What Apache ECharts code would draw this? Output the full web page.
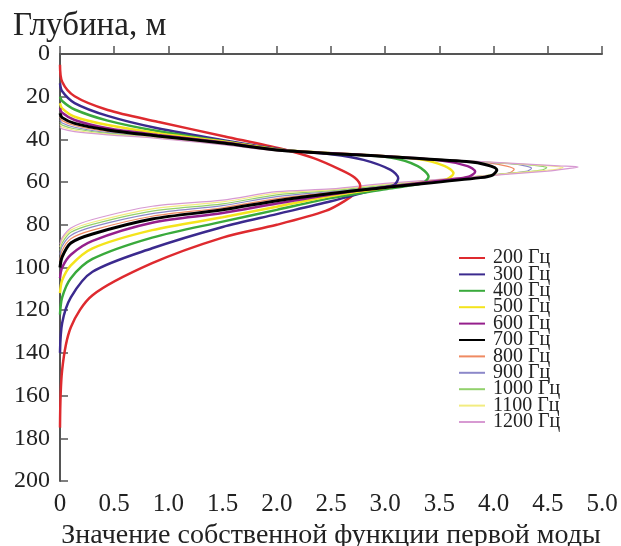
<!DOCTYPE html>
<html><head><meta charset="utf-8">
<script src="https://cdn.jsdelivr.net/npm/echarts@6/dist/echarts.min.js"></script>
<style>html,body{margin:0;padding:0;background:#fff}#c{width:621px;height:546px}</style>
</head><body><div id="c"></div>
<script>
const freqLabels = ['200 Гц','300 Гц','400 Гц','500 Гц','600 Гц','700 Гц','800 Гц','900 Гц','1000 Гц','1100 Гц','1200 Гц'];
const xTicks = [0,0.5,1.0,1.5,2.0,2.5,3.0,3.5,4.0,4.5,5.0];
const yTicks = [0,20,40,60,80,100,120,140,160,180,200];
// each point: [eigenfunction value, depth m]
const f200 = [[0,5],[0.02,13],[0.135,19.8],[0.44,26.2],[0.9,31.7],[1.52,38.6],[2.05,44.5],[2.34,48.8],[2.59,54.3],[2.72,58],[2.77,62],[2.74,64.5],[2.62,69],[2.45,73.5],[2.0,80],[1.5,86],[0.85,98],[0.3,113],[0.1,128],[0.02,148],[0,175]];
const f300 = [[0,13.7],[0.02,17.5],[0.135,23],[0.44,29],[0.9,34.8],[1.52,40.5],[2.05,44.8],[2.5,47],[2.8,49.6],[3.05,54.3],[3.12,58.2],[3.08,61.4],[2.95,62.9],[2.5,69],[2.0,75],[1.5,81],[0.85,91],[0.3,102],[0.1,114],[0.02,126],[0,140]];
const f400 = [[0,20],[0.02,22],[0.135,26],[0.44,31.2],[0.9,36.1],[1.52,41],[2.05,45],[2.6,46.8],[3.05,48.5],[3.3,52.5],[3.4,57.5],[3.35,60.3],[3.2,61.8],[3.0,63.3],[2.5,67.5],[2.0,73],[1.5,78.5],[0.85,86],[0.3,96],[0.1,105],[0.02,114],[0,122]];
const f500 = [[0,23.1],[0.02,25.5],[0.135,29.4],[0.44,33.3],[0.9,37.1],[1.52,41.1],[2.05,45],[2.7,47],[3.3,49.2],[3.55,52.5],[3.63,55.9],[3.57,58.6],[3.4,60],[3.0,62.6],[2.5,66.5],[2.0,71.5],[1.5,76.5],[0.85,82.5],[0.3,91],[0.1,99],[0.02,106],[0,112]];
const f600 = [[0,25.4],[0.02,27.5],[0.135,30.9],[0.44,34.8],[0.9,37.9],[1.52,41.5],[2.05,45.1],[2.8,47.3],[3.5,49.8],[3.76,52.5],[3.83,55.1],[3.77,57.5],[3.6,58.8],[3.0,62.3],[2.5,65.8],[2.0,70],[1.5,74.5],[0.85,79],[0.3,87.5],[0.1,94],[0.02,100],[0,105]];
const f700 = [[0,27.8],[0.02,29.8],[0.135,32.5],[0.44,35.6],[0.9,38.4],[1.52,41.8],[2.05,45.2],[3.0,48],[3.75,50.4],[3.94,52],[4.03,54.3],[3.99,56.7],[3.88,57.9],[3.0,62.5],[2.5,65.3],[2.0,68.7],[1.5,73],[0.85,77.3],[0.3,84.3],[0.1,88.5],[0.02,95],[0,100]];
const f800 = [[0,29.5],[0.02,31.2],[0.135,33.5],[0.44,36.3],[0.9,38.8],[1.52,42],[2.05,45.3],[3.2,48.5],[3.95,51],[4.12,52.5],[4.19,54],[4.14,55.8],[4.0,56.7],[3.0,62.2],[2.5,64.8],[2.0,67.7],[1.5,72],[0.85,76],[0.3,82.5],[0.1,86.5],[0.02,92],[0,97]];
const f900 = [[0,30.8],[0.02,32.3],[0.135,34.3],[0.44,36.8],[0.9,39],[1.52,42.2],[2.05,45.4],[3.3,48.8],[4.15,51.4],[4.3,52.5],[4.35,53.5],[4.3,55],[4.15,55.8],[3.0,61.8],[2.5,64.4],[2.0,66.8],[1.5,71],[0.85,74.8],[0.3,81],[0.1,85],[0.02,90],[0,94]];
const f1000 = [[0,32],[0.02,33.3],[0.135,35],[0.44,37.2],[0.9,39.2],[1.52,42.3],[2.05,45.4],[3.4,49],[4.3,51.8],[4.45,52.6],[4.49,53.2],[4.44,54.4],[4.3,55.2],[3.0,61.4],[2.5,64],[2.0,66],[1.5,70.2],[0.85,73.6],[0.3,79.8],[0.1,83.5],[0.02,88.5],[0,92]];
const f1100 = [[0,33],[0.02,34.2],[0.135,35.7],[0.44,37.5],[0.9,39.3],[1.52,42.4],[2.05,45.5],[3.5,49.3],[4.45,52.2],[4.6,52.8],[4.64,53.1],[4.58,54],[4.45,54.6],[3.0,61],[2.5,63.6],[2.0,65.2],[1.5,69.3],[0.85,72.5],[0.3,78.8],[0.1,82.5],[0.02,87],[0,90.5]];
const f1200 = [[0,34],[0.02,35.1],[0.135,36.4],[0.44,37.9],[0.9,39.5],[1.52,42.6],[2.05,45.5],[3.6,49.6],[4.6,52.4],[4.78,52.9],[4.7,53.6],[4.5,54.9],[3.0,60.6],[2.5,63.2],[2.0,64.5],[1.5,68.4],[0.85,71.3],[0.3,77.5],[0.1,81.5],[0.02,86],[0,89]];

const seriesData = [f200,f300,f400,f500,f600,f700,f800,f900,f1000,f1100,f1200];
const colors = ['#de2a2f','#3b2a8e','#3aaa3c','#f4e41c','#951f8c','#000000','#ef8a62','#8c88c9','#92d16c','#f2ec80','#d79ad2'];
const widths = [2.5,2.5,2.5,2.5,2.5,3,1.2,1.2,1.2,1.2,1.2];
const FONT = '"Liberation Serif","Times New Roman",serif';

const chart = echarts.init(document.getElementById('c'), null, {renderer:'canvas'});
chart.setOption({
  animation: false,
  backgroundColor: '#fff',
  title: {
    text: 'Глубина, м', left: 8, top: 5,
    textStyle: {fontFamily: FONT, fontSize: 33, fontWeight: 'normal', color: '#222'}
  },
  grid: {left: 60, right: 19, top: 54, bottom: 65, containLabel: false, outerBoundsMode: 'none'},
  legend: {
    orient: 'vertical', left: 453, top: 243,
    itemWidth: 26, itemHeight: 14, itemGap: -3.6,
    data: freqLabels,
    itemStyle: {opacity: 0},
    textStyle: {fontFamily: FONT, fontSize: 20, color: '#222', padding: [0,0,0,3]}
  },
  xAxis: {
    type: 'value', min: 0, max: 5, interval: 0.5,
    name: 'Значение собственной функции первой моды',
    nameLocation: 'middle', nameGap: 40,
    nameTextStyle: {fontFamily: FONT, fontSize: 28, color: '#222'},
    axisLine: {lineStyle: {color: '#555', width: 2}},
    axisTick: {inside: true, length: 8, lineStyle: {color: '#555', width: 1.5}},
    axisLabel: {fontFamily: FONT, fontSize: 25, color: '#222', margin: 11,
      formatter: v => v === 0 ? '0' : v.toFixed(1)},
    splitLine: {show: false}
  },
  yAxis: {
    type: 'value', min: 0, max: 200, interval: 20, inverse: true,
    axisLine: {lineStyle: {color: '#555', width: 2}},
    axisTick: {inside: true, length: 8, lineStyle: {color: '#555', width: 1.5}},
    axisLabel: {fontFamily: FONT, fontSize: 24, color: '#222', margin: 10},
    splitLine: {show: false}
  },
  series: seriesData.map((d, i) => ({
    name: freqLabels[i], type: 'line', data: d,
    symbol: 'none', smooth: 0.3,
    z: i === 5 ? 5 : (i < 6 ? 4 : 3),
    lineStyle: {color: colors[i], width: widths[i]},
    itemStyle: {color: colors[i]}
  }))
});
</script></body></html>
